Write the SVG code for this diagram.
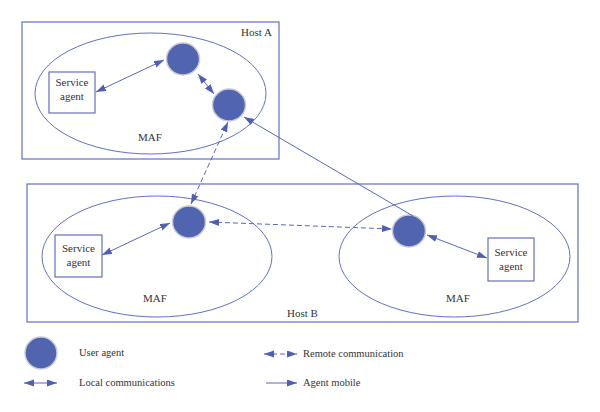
<svg xmlns="http://www.w3.org/2000/svg" width="600" height="412" viewBox="0 0 600 412">
<style>
.frame{fill:none;stroke:#6470c0;stroke-width:1.2}
.maf{fill:none;stroke:#6470c0;stroke-width:1}
.box{fill:#fff;stroke:#6470c0;stroke-width:1.2}
.ua{fill:#5064b0;stroke:#c8cad6;stroke-width:1.5}
.t{font-family:"Liberation Serif",serif;font-size:11px;fill:#333}
.lg{font-family:"Liberation Serif",serif;font-size:10.5px;fill:#333}
.c{stroke:#5a66ba;stroke-width:1;fill:none}
.d{stroke-dasharray:5,3}
</style>
<defs>
<marker id="ah" markerUnits="userSpaceOnUse" markerWidth="10" markerHeight="8" refX="10" refY="3.5" orient="auto-start-reverse"><path d="M0,0 L10,3.5 L0,7 z" fill="#4f5fb3"/></marker>
</defs>
<g id="hostA"><rect class="frame" x="22" y="22" width="257" height="137"/><text class="t" x="241" y="36">Host A</text></g>
<g id="mafA"><ellipse class="maf" cx="150.5" cy="93.5" rx="115.5" ry="60.5"/><text class="t" x="138" y="141">MAF</text></g>
<g id="serviceA"><rect class="box" x="49" y="72" width="46" height="41"/><text class="t" x="72" y="86" text-anchor="middle">Service</text><text class="t" x="72" y="100" text-anchor="middle">agent</text></g>
<g id="hostB"><rect class="frame" x="27" y="184" width="551" height="138"/><text class="t" x="287" y="317">Host B</text></g>
<g id="mafB1"><ellipse class="maf" cx="157" cy="256.5" rx="115" ry="60.5"/><text class="t" x="143" y="302">MAF</text></g>
<g id="mafB2"><ellipse class="maf" cx="454.5" cy="256.5" rx="115.5" ry="60.5"/><text class="t" x="446" y="302">MAF</text></g>
<g id="serviceB1"><rect class="box" x="55" y="235" width="47" height="42"/><text class="t" x="78.5" y="252" text-anchor="middle">Service</text><text class="t" x="78.5" y="266" text-anchor="middle">agent</text></g>
<g id="serviceB2"><rect class="box" x="488" y="238" width="46" height="43"/><text class="t" x="511" y="256" text-anchor="middle">Service</text><text class="t" x="511" y="270" text-anchor="middle">agent</text></g>
<g id="agentA1"><ellipse class="ua" cx="183" cy="59" rx="16.5" ry="16"/></g>
<g id="agentA2"><ellipse class="ua" cx="229" cy="105" rx="16.5" ry="16"/></g>
<g id="agentB1"><ellipse class="ua" cx="189" cy="222" rx="16.5" ry="16"/></g>
<g id="agentB2"><ellipse class="ua" cx="409" cy="231" rx="16.5" ry="16"/></g>
<g id="connectors">
<line class="c" x1="96" y1="92" x2="164" y2="60" marker-start="url(#ah)" marker-end="url(#ah)"/>
<line class="c" x1="198" y1="74" x2="214" y2="94" marker-start="url(#ah)" marker-end="url(#ah)"/>
<line class="c d" x1="191" y1="204" x2="228" y2="122" marker-start="url(#ah)" marker-end="url(#ah)"/>
<line class="c d" x1="209" y1="222" x2="392" y2="229" marker-start="url(#ah)" marker-end="url(#ah)"/>
<line class="c" x1="413" y1="216" x2="244" y2="117" marker-end="url(#ah)"/>
<line class="c" x1="102" y1="255" x2="170" y2="223" marker-start="url(#ah)" marker-end="url(#ah)"/>
<line class="c" x1="427" y1="235" x2="487" y2="258" marker-start="url(#ah)" marker-end="url(#ah)"/>
</g>
<g id="legend">
<ellipse class="ua" cx="41" cy="353" rx="16" ry="16"/>
<text class="lg" x="79" y="356">User agent</text>
<line class="c" x1="24" y1="383" x2="57" y2="383" marker-start="url(#ah)" marker-end="url(#ah)"/>
<text class="lg" x="79" y="386">Local communications</text>
<line class="c d" x1="264" y1="354" x2="297" y2="354" marker-start="url(#ah)" marker-end="url(#ah)"/>
<text class="lg" x="303" y="357">Remote communication</text>
<line class="c" x1="266" y1="383" x2="297" y2="383" marker-end="url(#ah)"/>
<text class="lg" x="303" y="386">Agent mobile</text>
</g>
</svg>
